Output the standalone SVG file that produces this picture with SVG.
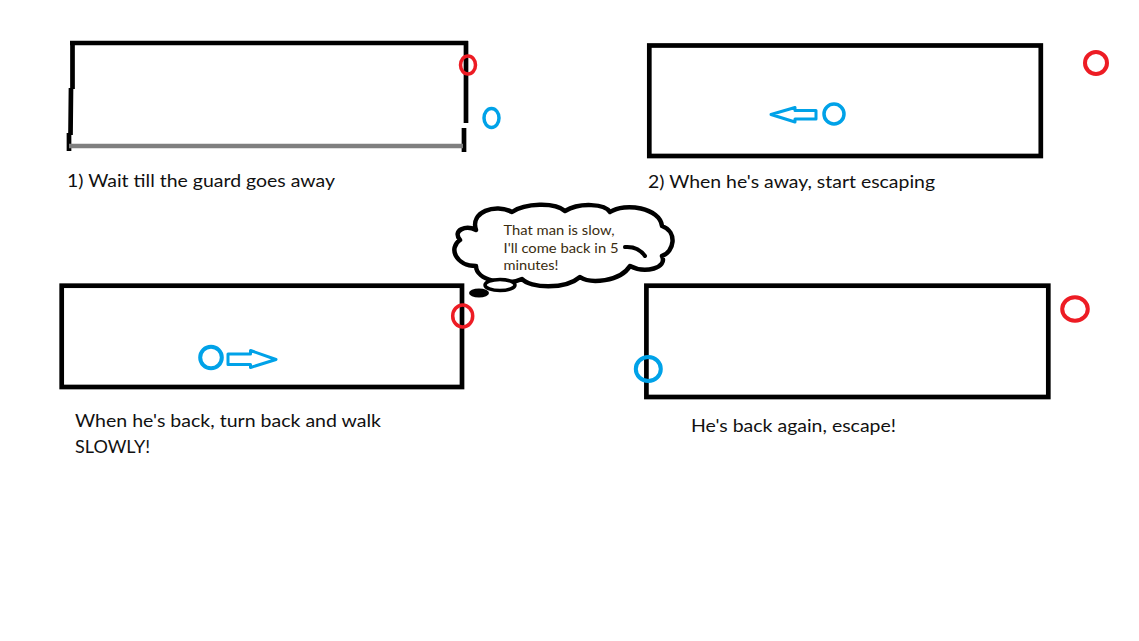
<svg xmlns="http://www.w3.org/2000/svg" width="1139" height="641" viewBox="0 0 1139 641">
<style>
.wall{fill:none;stroke:#000;stroke-width:4.7}
.guard{fill:none;stroke:#ed1c24}
.me{fill:none;stroke:#00a2e8}
.arr{fill:#fff;stroke:#00a2e8;stroke-width:3;stroke-linejoin:round}
.lbl{font-family:Lato,"Open Sans","Liberation Sans",sans-serif;font-size:17px;fill:#111}
.say{font-family:Lato,"Open Sans","Liberation Sans",sans-serif;font-size:14px;fill:#3a2c10}
</style>
<rect width="1139" height="641" fill="#fff"/>
<g id="panel1">
  <path class="wall" d="M70,43 H468 M72.5,41 L72.5,89 M71,88 L70.5,135 M69,133 L69,151 M466,41 V123 M464,128 V152" />
  <path d="M69,146 H463" fill="none" stroke="#7f7f7f" stroke-width="4.5"/>
  <ellipse class="guard" cx="468" cy="65" rx="7.5" ry="9" stroke-width="3.5"/>
  <ellipse class="me" cx="491.5" cy="118" rx="7.5" ry="9.5" stroke-width="3.5"/>
  <text class="lbl" x="67" y="187" textLength="268" lengthAdjust="spacingAndGlyphs">1) Wait till the guard goes away</text>
</g>
<g id="panel2">
  <rect class="wall" x="649.3" y="45.5" width="391.5" height="110.5"/>
  <circle class="guard" cx="1096" cy="63" r="11" stroke-width="4"/>
  <circle class="me" cx="834" cy="114" r="10" stroke-width="3.5"/>
  <polygon class="arr" points="771,114.5 795,107.5 795,110.5 816,110.5 816,119 795,119 795,122"/>
  <text class="lbl" x="648" y="187.5" textLength="287" lengthAdjust="spacingAndGlyphs">2) When he's away, start escaping</text>
</g>
<g id="thought">
  <path d="M476,230 C470,212 495,203 512,212 C525,203 555,202 565,211 C580,202 605,204 610,212 C625,202 660,208 662,226 C678,232 674,252 662,256 C668,268 645,274 630,266 C620,282 590,284 580,277 C565,290 530,288 522,279 C505,287 476,280 476,266 C456,266 448,248 460,240 C452,230 466,225 476,230 Z" fill="#fff" stroke="#000" stroke-width="4.5" stroke-linejoin="round"/>
  <path d="M625,247 Q638,246 645,256" fill="none" stroke="#000" stroke-width="4" stroke-linecap="round"/>
  <ellipse cx="500" cy="285" rx="15" ry="5.5" fill="#fff" stroke="#000" stroke-width="3.5"/>
  <ellipse cx="479" cy="293" rx="10" ry="4.5" fill="#000"/>
  <text class="say" x="503.5" y="234.5" textLength="111" lengthAdjust="spacingAndGlyphs">That man is slow,</text>
  <text class="say" x="503.5" y="252.5" textLength="115" lengthAdjust="spacingAndGlyphs">I'll come back in 5</text>
  <text class="say" x="503.5" y="270" textLength="55" lengthAdjust="spacingAndGlyphs">minutes!</text>
</g>
<g id="panel3">
  <rect class="wall" x="61.7" y="285.7" width="400.3" height="101.3"/>
  <ellipse class="guard" cx="462.7" cy="316" rx="10" ry="11" stroke-width="3.5"/>
  <circle class="me" cx="211" cy="357.5" r="10.8" stroke-width="4"/>
  <polygon class="arr" points="228,354 250.5,354 250.5,350.5 276,359.5 250.5,367.5 250.5,364.5 228,364.5"/>
  <text class="lbl" x="75" y="427.3" textLength="306" lengthAdjust="spacingAndGlyphs">When he's back, turn back and walk</text>
  <text class="lbl" x="75" y="453.3" textLength="75" lengthAdjust="spacingAndGlyphs">SLOWLY!</text>
</g>
<g id="panel4">
  <rect class="wall" x="646.4" y="285.7" width="401.9" height="111.3"/>
  <ellipse class="guard" cx="1075" cy="309" rx="12.8" ry="11.8" stroke-width="4"/>
  <ellipse class="me" cx="648.3" cy="369" rx="12.5" ry="12" stroke-width="4"/>
  <text class="lbl" x="691" y="431.7" textLength="205" lengthAdjust="spacingAndGlyphs">He's back again, escape!</text>
</g>
<g id="connectors"/>
</svg>
